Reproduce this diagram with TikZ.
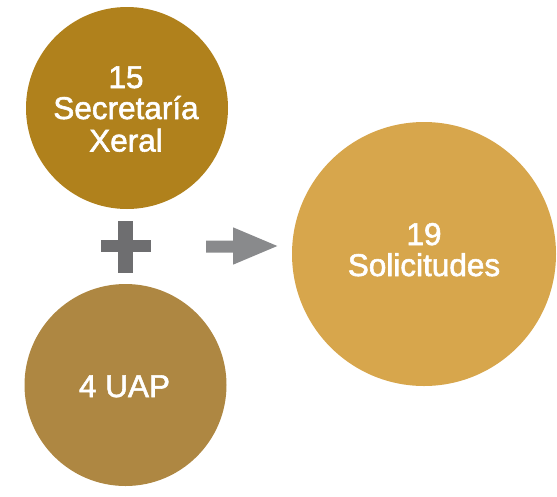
\documentclass[tikz,border=0pt]{standalone}
\usepackage{fontspec}
\newfontfamily\lblfont{Liberation Sans}[FakeBold=1.8]
\definecolor{cTop}{HTML}{B0811C}
\definecolor{cBot}{HTML}{AE8742}
\definecolor{cRight}{HTML}{D7A64C}
\definecolor{cPlus}{HTML}{6E6E70}
\definecolor{cArrow}{HTML}{898A8C}
\tikzset{
  circ/.style={circle, inner sep=0pt, minimum size=#1},
  lbl/.style={anchor=base, text=white, inner sep=0pt, font=\lblfont\fontsize{31.5}{33}\selectfont},
}
\begin{document}
\begin{tikzpicture}[x=1pt,y=-1pt]
\useasboundingbox (0,0) rectangle (557,496);
% circles
\node[circ=202pt, fill=cTop] (sx) at (127,108) {};
\node[circ=202pt, fill=cBot] (uap) at (125.5,385) {};
\node[circ=264pt, fill=cRight] (sol) at (424,254) {};
% labels
\node[lbl] (t1) at (126,88) {15};
\node[lbl] (t2) at (126,119) {Secretaría};
\node[lbl] (t3) at (126,151.5) {Xeral};
\node[lbl] (t4) at (124.5,397) {4 UAP};
\node[lbl] (t5) at (424,245) {19};
\node[lbl] (t6) at (424,276) {Solicitudes};
% plus sign
\fill[cPlus] (118,220.7) rectangle (132.7,272.7);
\fill[cPlus] (100.7,240) rectangle (150.7,252.3);
% arrow
\fill[cArrow] (206,240.5) -- (233,240.5) -- (233,227.3) -- (277.3,246)
  -- (233,264.7) -- (233,252.5) -- (206,252.5) -- cycle;
\end{tikzpicture}
\end{document}
